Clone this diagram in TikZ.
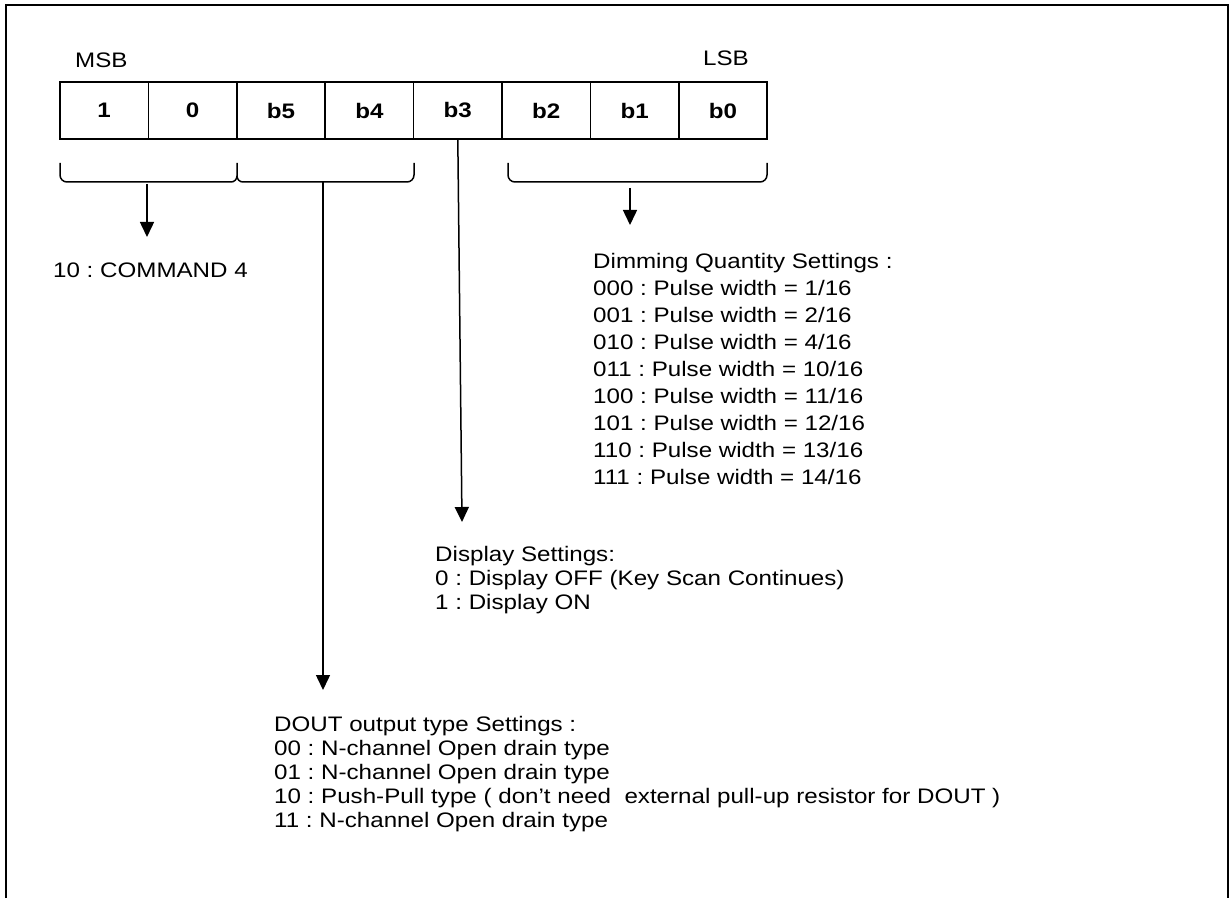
\documentclass[tikz,border=0pt]{standalone}
\usepackage{fontspec}
\setmainfont{Liberation Sans}[FakeStretch=1.15]
\usepackage{tikz}
\usetikzlibrary{positioning,arrows.meta}
\frenchspacing

\begin{document}
\begin{tikzpicture}[x=1pt, y=1pt,
    cell/.style = {draw, line width=1.6pt, minimum width=88.4pt, minimum height=57pt, inner sep=0pt, outer sep=0pt, font=\fontsize{21}{24}\selectfont\bfseries},
    txt/.style = {inner sep=0pt, align=left, anchor=north west, font=\fontsize{21}{24}\selectfont},
    bracket/.style = {line width=1.5pt},
    pointer/.style = {line width=1.5pt, -{Triangle[width=14pt,length=15pt]}}]
    \useasboundingbox (0,0) rectangle (1231,898);
    \draw[line width=2pt] (6,0) -- (6,893) -- (1228,893) -- (1228,0);
    % register bits
    \node[cell] (n7) at (104.2,787.5) {1};
    \node[cell] (n6) [right=0pt of n7] {0};
    \node[cell] (n5) [right=0pt of n6] {b5};
    \node[cell] (n4) [right=0pt of n5] {b4};
    \node[cell] (n3) [right=0pt of n4] {b3};
    \node[cell] (n2) [right=0pt of n3] {b2};
    \node[cell] (n1) [right=0pt of n2] {b1};
    \node[cell] (n0) [right=0pt of n1] {b0};
    \node[txt, anchor=west] (msb) at (75,838) {MSB};
    \node[txt, anchor=west] (lsb) at (703,840) {LSB};
    % brackets under the bits
    \draw[bracket] (60,735) -- (60,723) arc[start angle=180, end angle=270, radius=7] -- (231,716)
        arc[start angle=-90, end angle=0, radius=6] -- (237,735) -- (237,722)
        arc[start angle=180, end angle=270, radius=6] -- (407,716)
        arc[start angle=270, end angle=360, radius=7] -- (414,735);
    \draw[bracket] (508,735) -- (508,723) arc[start angle=180, end angle=270, radius=7] -- (760,716)
        arc[start angle=270, end angle=360, radius=7] -- (767,735);
    \coordinate (bA) at (147,714);
    \coordinate (bB) at (323,716);
    \coordinate (bC) at (630,710);
    \coordinate (tA) at (147,661);
    \coordinate (tB) at (323,208);
    \coordinate (tC) at (630,673);
    \coordinate (t3) at (462,376);
    % settings
    \node[txt, anchor=west] (cmd) at (53,628) {10 : COMMAND 4};
    \node[txt, font=\fontsize{21}{27}\selectfont] (dim) at (593,644.6) {Dimming Quantity Settings :\\
        000 : Pulse width = 1/16\\
        001 : Pulse width = 2/16\\
        010 : Pulse width = 4/16\\
        011 : Pulse width = 10/16\\
        100 : Pulse width = 11/16\\
        101 : Pulse width = 12/16\\
        110 : Pulse width = 13/16\\
        111 : Pulse width = 14/16};
    \node[txt] (disp) at (435,351.6) {Display Settings:\\
        0 : Display OFF (Key Scan Continues)\\
        1 : Display ON};
    \node[txt] (dout) at (274,181.6) {DOUT output type Settings :\\
        00 : N-channel Open drain type\\
        01 : N-channel Open drain type\\
        10 : Push-Pull type ( don’t need \ external pull-up resistor for DOUT )\\
        11 : N-channel Open drain type};
    \draw[pointer] (bA) -- (tA);
    \draw[pointer] (bB) -- (tB);
    \draw[pointer] (bC) -- (tC);
    \draw[pointer] (n3.south) -- (t3);
\end{tikzpicture}
\end{document}
